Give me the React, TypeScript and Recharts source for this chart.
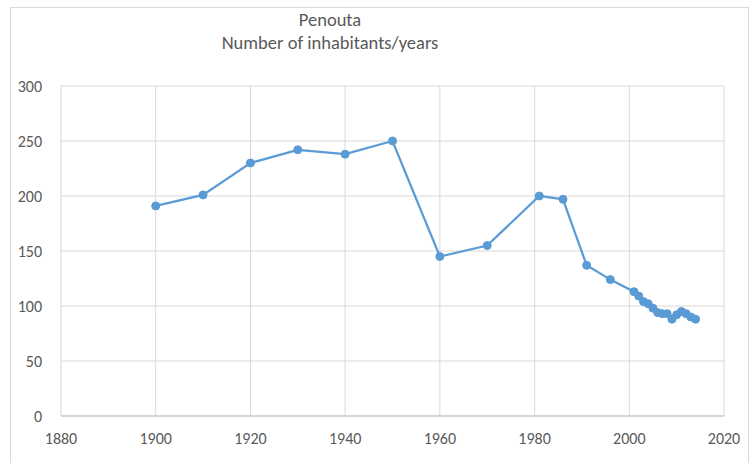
import React from 'react';
import { LineChart, Line, XAxis, YAxis, CartesianGrid } from 'recharts';

const years = [1900, 1910, 1920, 1930, 1940, 1950, 1960, 1970, 1981, 1986, 1991, 1996, 2001, 2002, 2003, 2004, 2005, 2006, 2007, 2008, 2009, 2010, 2011, 2012, 2013, 2014];
const inhabitants = [191, 201, 230, 242, 238, 250, 145, 155, 200, 197, 137, 124, 113, 109, 104, 102, 98, 94, 93, 93, 88, 92, 95, 93, 90, 88];
const xTicks = [1880, 1900, 1920, 1940, 1960, 1980, 2000, 2020];
const yTicks = [0, 50, 100, 150, 200, 250, 300];
const titleLines = ['Penouta', 'Number of inhabitants/years'];

const data = years.map((y, i) => ({ year: y, value: inhabitants[i] }));

const font = 'Carlito, "Open Sans", "Noto Sans", sans-serif';

export default function App() {
  return (
    <div style={{ position: 'absolute', left: 0, top: 0, width: 751, height: 463, background: '#fff', overflow: 'hidden' }}>
      <div style={{ position: 'absolute', left: 10, top: 7, width: 739, height: 470, border: '1px solid #d9d9d9', boxSizing: 'border-box' }} />
      <div style={{ position: 'absolute', left: 0, top: 8, width: 660, textAlign: 'center', fontFamily: font, fontSize: 18.5, color: '#595959', lineHeight: '23px' }}>
        {titleLines.map((t) => (<div key={t}>{t}</div>))}
      </div>
      <div style={{ position: 'absolute', left: 0, top: 0 }}>
        <LineChart width={751} height={463} data={data} margin={{ top: 86, right: 27, left: 0, bottom: 17 }}>
          <CartesianGrid stroke="#d9d9d9" strokeWidth={1} />
          <XAxis
            dataKey="year"
            type="number"
            domain={[1880, 2020]}
            ticks={xTicks}
            height={30}
            axisLine={{ stroke: '#bfbfbf', strokeWidth: 1 }}
            tickLine={false}
            tick={{ fill: '#595959', fontSize: 16, fontFamily: font }}
            tickMargin={11}
          />
          <YAxis
            type="number"
            domain={[0, 300]}
            ticks={yTicks}
            width={61}
            axisLine={false}
            tickLine={false}
            tick={{ fill: '#595959', fontSize: 16, fontFamily: font }}
            tickMargin={13}
          />
          <Line
            type="linear"
            dataKey="value"
            stroke="#5b9bd5"
            strokeWidth={2.25}
            dot={{ r: 4, fill: '#5b9bd5', stroke: '#5b9bd5', strokeWidth: 1 }}
            isAnimationActive={false}
          />
        </LineChart>
      </div>
    </div>
  );
}
